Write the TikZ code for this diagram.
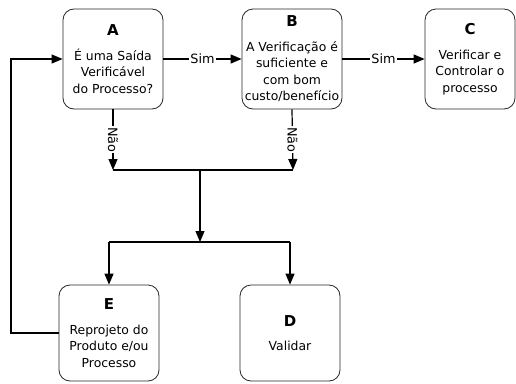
\documentclass[tikz,border=0pt]{standalone}
\usepackage{fontspec}
\setmainfont{DejaVu Sans}
\usetikzlibrary{arrows.meta}
\newcommand\boxtitle[1]{{\fontsize{15}{17}\selectfont\bfseries #1}\\[8pt]}
\begin{document}
\begin{tikzpicture}[x=1pt,y=-1pt,
	box/.style={draw=black!85,line width=0.8pt,rounded corners=11pt,minimum width=100pt,minimum height=100pt,align=center,inner sep=1pt,font=\fontsize{12.4}{16.5}\selectfont},
	flow/.style={line width=1.2pt,-{Triangle[length=11pt,width=9pt]}},
	line/.style={line width=1.2pt},
	lbl/.style={fill=white,inner sep=1pt,font=\fontsize{12.8}{14}\selectfont}]
	\useasboundingbox (0,0) rectangle (516,383);
	\node[box] (A) at (113,59) {\boxtitle{A}É uma Saída\\Verificável\\do Processo?};
	\node[box] (B) at (292,59) {\boxtitle{B}A Verificação é\\suficiente e\\com bom\\custo/benefício};
	\node[box,minimum width=90pt] (C) at (470,59) {\boxtitle{C}Verificar e\\Controlar o\\processo};
	\node[box,minimum height=96pt] (E) at (109,333) {\boxtitle{E}Reprojeto do\\Produto e/ou\\Processo};
	\node[box,minimum height=96pt] (D) at (290,333) {\boxtitle{D}Validar};
	\path (113,170) coordinate (nA)
	++ (87,0) coordinate (j1)
	++ (93,0) coordinate (nB)
	(200,242) coordinate (j2)
	(11,333) coordinate (l1)
	(11,59) coordinate (l2);
	\draw[flow] (A) -- node[lbl] {Sim} (B);
	\draw[flow] (B) -- node[lbl] {Sim} (C);
	\draw[flow] (A.south) -- node[lbl,rotate=-90] {Não} (nA);
	\draw[flow] (B.south) -- node[lbl,rotate=-90] {Não} (nB);
	\draw[line] (nA) -- (nB);
	\draw[flow] (j1) -- (j2);
	\draw[line] (E.north |- j2) -- (D.north |- j2);
	\draw[flow] (E.north |- j2) -- (E.north);
	\draw[flow] (D.north |- j2) -- (D.north);
	\draw[flow] (E.west) -- (l1) -- (l2) -- (A.west);
\end{tikzpicture}
\end{document}
